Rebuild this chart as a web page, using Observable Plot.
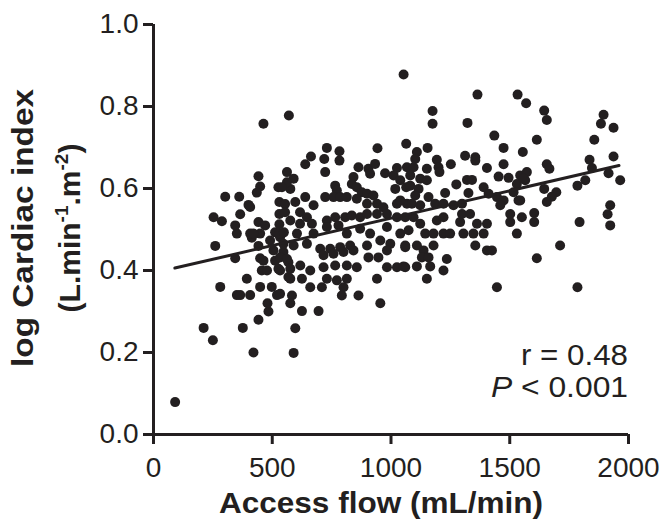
<!DOCTYPE html>
<html><head><meta charset="utf-8">
<script src="https://cdn.jsdelivr.net/npm/d3@7"></script>
<script src="https://cdn.jsdelivr.net/npm/@observablehq/plot@0.6"></script>
<style>
body{margin:0;background:#fff;}
#chart svg{display:block;}
</style></head><body><div id="chart"></div>
<script>
const accessFlow = [91,211,250,260,281,344,376,421,442,484,480,351,365,407,393,449,498,520,456,478,449,351,414,442,449,533,491,533,505,547,463,512,568,526,568,512,
463,570,442,449,435,302,361,400,407,365,253,288,344,442,470,407,421,526,530,530,530,530,
1053,1064,943,730,783,719,783,663,639,723,562,863,905,933,912,975,1025,1067,842,835,856,877,765,772,758,590,576,562,541,1011,1039,1018,1064,639,597,554,674,723,786,814,856,899,926,899,941,968,1025,1067,554,617,646,667,617,576,730,765,807,835,870,899,941,983,1025,549,604,674,730,779,814,870,912,983,1039,1074,
547,590,646,702,744,786,828,899,955,997,1060,533,562,716,758,800,842,905,947,983,576,618,660,716,765,814,856,983,1025,1060,576,625,660,709,730,772,814,800,941,533,583,793,863,576,955,625,695,597,590,
1364,1533,1569,1175,1175,1322,1435,1154,1109,1102,1474,1555,1312,1355,1355,1193,1200,1204,1252,1474,1404,1095,1151,1081,1123,1151,1453,1495,1544,1572,1530,1565,1320,1341,1081,1116,1102,1039,1228,1275,1326,1390,1411,1446,1474,1516,1088,1123,1158,1186,1221,1263,1299,1460,1537,1060,1095,1123,1193,1221,1291,1299,1333,1362,1404,1502,1502,1551,1144,1179,1221,1249,1305,1347,1390,1530,
1060,1109,1137,1179,1355,1404,1425,1053,1109,1130,1158,1165,1235,1221,1151,1446,
1645,1656,1895,1884,1937,1614,1856,1937,1836,1846,1656,1667,1558,1916,1818,1785,1965,1645,1696,1677,1656,1923,1912,1603,1603,1794,1923,1544,
1712,1614,1785];
const logCI = [0.079,0.26,0.23,0.46,0.36,0.43,0.26,0.20,0.28,0.30,0.32,0.34,0.34,0.34,0.38,0.36,0.36,0.34,0.40,0.40,0.43,0.49,0.48,0.46,0.49,0.40,0.473,0.481,0.449,0.445,0.424,0.424,0.42,0.404,0.384,0.493,
0.758,0.778,0.63,0.605,0.59,0.58,0.58,0.56,0.555,0.537,0.53,0.52,0.51,0.518,0.51,0.49,0.49,0.603,0.567,0.538,0.513,0.49,
0.878,0.709,0.698,0.699,0.691,0.672,0.668,0.678,0.659,0.64,0.64,0.652,0.648,0.66,0.636,0.637,0.65,0.652,0.628,0.611,0.603,0.591,0.607,0.595,0.579,0.624,0.599,0.615,0.603,0.632,0.62,0.599,0.603,0.579,0.567,0.562,0.559,0.579,0.579,0.579,0.575,0.587,0.583,0.563,0.563,0.554,0.563,0.563,0.542,0.542,0.53,0.514,0.514,0.522,0.522,0.53,0.53,0.534,0.53,0.538,0.538,0.538,0.53,0.493,0.49,0.49,0.506,0.51,0.49,0.502,0.49,0.506,0.49,0.498,
0.465,0.461,0.465,0.453,0.453,0.457,0.461,0.461,0.473,0.465,0.457,0.432,0.428,0.437,0.441,0.445,0.449,0.432,0.432,0.449,0.404,0.412,0.40,0.408,0.412,0.412,0.408,0.408,0.408,0.408,0.38,0.38,0.359,0.359,0.38,0.376,0.38,0.359,0.38,0.343,0.339,0.339,0.339,0.32,0.32,0.301,0.301,0.259,0.199,
0.829,0.829,0.808,0.789,0.758,0.76,0.729,0.699,0.689,0.672,0.699,0.689,0.68,0.676,0.668,0.67,0.652,0.64,0.659,0.659,0.65,0.652,0.648,0.632,0.624,0.62,0.629,0.626,0.632,0.64,0.611,0.62,0.621,0.621,0.607,0.599,0.583,0.571,0.589,0.61,0.589,0.603,0.587,0.579,0.571,0.591,0.563,0.559,0.579,0.563,0.563,0.559,0.563,0.559,0.571,0.53,0.53,0.514,0.522,0.53,0.518,0.538,0.538,0.514,0.514,0.538,0.518,0.53,0.49,0.49,0.49,0.49,0.49,0.49,0.49,0.49,
0.461,0.461,0.449,0.461,0.461,0.449,0.449,0.41,0.41,0.432,0.432,0.41,0.428,0.40,0.38,0.359,
0.79,0.767,0.78,0.758,0.748,0.719,0.719,0.678,0.67,0.65,0.659,0.648,0.624,0.637,0.62,0.607,0.62,0.599,0.591,0.58,0.567,0.559,0.537,0.54,0.518,0.518,0.51,0.571,
0.461,0.43,0.359];
const fitFlow = [90, 1960];
const fitLogCI = [0.406, 0.656];
const xTicks = [0, 500, 1000, 1500, 2000];
const yTicks = [0, 0.2, 0.4, 0.6, 0.8, 1.0];
const statR = "r = 0.48";
const statP = ["P", " < 0.001"];
const xTitle = "Access flow (mL/min)";
const yTitle1 = "log Cardiac index";

const ink = "#231f20";
const points = accessFlow.map((x, i) => ({x, y: logCI[i]}));
const fit = fitFlow.map((x, i) => ({x, y: fitLogCI[i]}));

const chart = Plot.plot({
  width: 664, height: 520,
  marginLeft: 153, marginRight: 36, marginTop: 24, marginBottom: 86,
  style: {fontFamily: "'Liberation Sans', Arial, sans-serif", color: ink, background: "#fff", overflow: "visible"},
  x: {domain: [0, 2000]},
  y: {domain: [0, 1]},
  marks: [
    Plot.axisX({ticks: xTicks, tickSize: 10, strokeWidth: 3, tickPadding: 13, fontSize: 28, label: null, tickFormat: d => String(d)}),
    Plot.axisY({ticks: yTicks, tickSize: 10, strokeWidth: 3, tickPadding: 5, fontSize: 28, label: null, tickFormat: d3.format(".1f")}),
    Plot.ruleX([0], {y1: 0, y2: 1, stroke: ink, strokeWidth: 3}),
    Plot.ruleY([0], {x1: 0, x2: 2000, stroke: ink, strokeWidth: 3}),
    Plot.dot(points, {x: "x", y: "y", r: 5, fill: ink, stroke: "none"}),
    Plot.line(fit, {x: "x", y: "y", stroke: ink, strokeWidth: 3})
  ]
});
document.getElementById("chart").appendChild(chart);

const svg = d3.select(chart);
const sx = chart.scale("x");
const font = "'Liberation Sans', Arial, sans-serif";

// stats annotation
svg.append("text").attr("x", sx.apply(2000)).attr("y", 365).attr("text-anchor", "end")
  .attr("font-family", font).attr("font-size", 29).attr("fill", ink)
  .attr("textLength", 107).attr("lengthAdjust", "spacingAndGlyphs").text(statR);
const tp = svg.append("text").attr("x", sx.apply(2000)).attr("y", 397).attr("text-anchor", "end")
  .attr("font-family", font).attr("font-size", 29).attr("fill", ink)
  .attr("textLength", 137).attr("lengthAdjust", "spacingAndGlyphs");
tp.append("tspan").attr("font-style", "italic").text(statP[0]);
tp.append("tspan").text(statP[1]);

// x title
svg.append("text").attr("x", 381).attr("y", 513).attr("text-anchor", "middle")
  .attr("font-family", font).attr("font-size", 30).attr("font-weight", "bold").attr("fill", ink)
  .attr("textLength", 324).attr("lengthAdjust", "spacingAndGlyphs").text(xTitle);

// y title
const g = svg.append("g").attr("transform", "translate(0,228) rotate(-90)");
g.append("text").attr("x", 0).attr("y", 33).attr("text-anchor", "middle")
  .attr("font-family", font).attr("font-size", 30).attr("font-weight", "bold").attr("fill", ink)
  .attr("textLength", 278).attr("lengthAdjust", "spacingAndGlyphs").text(yTitle1);
const t2 = g.append("text").attr("x", 0).attr("y", 80).attr("text-anchor", "middle")
  .attr("font-family", font).attr("font-size", 30).attr("font-weight", "bold").attr("fill", ink);
t2.append("tspan").text("(L.min");
t2.append("tspan").attr("font-size", 19).attr("dy", -12).text("-1");
t2.append("tspan").attr("dy", 12).text(".m");
t2.append("tspan").attr("font-size", 19).attr("dy", -12).text("-2");
t2.append("tspan").attr("dy", 12).text(")");
</script></body></html>
